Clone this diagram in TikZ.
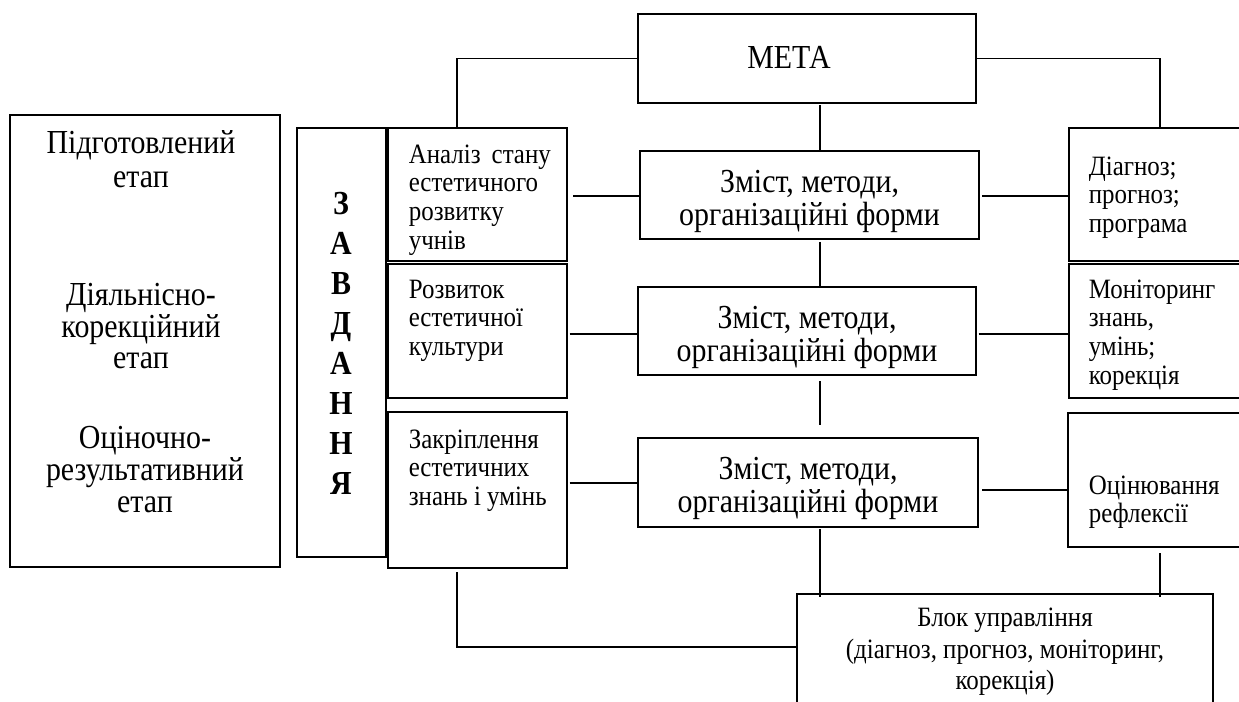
\documentclass[tikz,border=0pt]{standalone}
\usepackage{fontspec}
\setmainfont{Liberation Serif}[FakeStretch=0.89]
\usetikzlibrary{calc}
\newcommand{\myTop}{\rule{0pt}{16pt}}
\newcommand{\myTopB}{\rule{0pt}{19.5pt}}
\begin{document}
\begin{tikzpicture}[x=0.75pt,y=-0.75pt,line width=1.25pt,
  box/.style={draw,inner sep=0pt,outer sep=0pt,anchor=north west,align=center,font=\fontsize{25.2}{27}\selectfont},
  txtsmall/.style={inner sep=0pt,anchor=north west,align=left,font=\fontsize{21}{21.5}\selectfont},
  txtbig/.style={inner sep=0pt,align=center},
  link/.style={draw,line width=1.25pt}]
\useasboundingbox (0,0) rectangle (1239,702);
\clip (0,0) rectangle (1239,702);
\fill[white] (0,0) rectangle (1239,702);

% boxes
\node[box,minimum width=202.5pt,minimum height=339pt] (stages) at (10,115) {};
\node[box,minimum width=66.75pt,minimum height=321.75pt] (zad) at (297,128) {};
\node[box,minimum width=134.25pt,minimum height=99.75pt] (t1) at (388,128) {};
\node[box,minimum width=134.25pt,minimum height=100.5pt] (t2) at (388,264) {};
\node[box,minimum width=134.25pt,minimum height=117pt] (t3) at (388,412) {};
\node[box,minimum width=253.5pt,minimum height=66.75pt] (meta) at (638,14) {};
\node[box,minimum width=254.25pt,minimum height=66pt] (z1) at (640,151) {};
\node[box,minimum width=253.5pt,minimum height=66pt] (z2) at (638,287) {};
\node[box,minimum width=255pt,minimum height=66.75pt] (z3) at (638,438) {};
\node[box,minimum width=143.25pt,minimum height=99.75pt] (r1) at (1069,128) {};
\node[box,minimum width=143.25pt,minimum height=100.5pt] (r2) at (1069,264) {};
\node[box,minimum width=144pt,minimum height=100.5pt] (r3) at (1068,413) {};
\node[box,minimum width=312pt,minimum height=100pt] (blk) at (797,594) {};

% texts
\node[txtbig,font=\fontsize{25.2}{27}\selectfont] (metatxt) at (789,57) {МЕТА};
\node[txtbig,anchor=north,font=\fontsize{25.2}{25.5}\selectfont] (s1) at (141,127) {\myTopB Підготовлений\\етап};
\node[txtbig,anchor=north,font=\fontsize{25.2}{23.6}\selectfont] (s2) at (141,279) {\myTopB Діяльнісно-\\корекційний\\етап};
\node[txtbig,anchor=north,font=\fontsize{25.2}{24}\selectfont] (s3) at (145,422) {\myTopB Оціночно-\\результативний\\етап};
\node[txtbig,font=\fontsize{25.2}{30}\selectfont\bfseries] (zadtxt) at (341,343) {З\\А\\В\\Д\\А\\Н\\Н\\Я};

\node[txtbig,anchor=north,font=\fontsize{25.2}{24.75}\selectfont] (z1txt) at (z1.north |- 0,166) {\myTopB Зміст, методи,\\організаційні форми};
\node[txtbig,anchor=north,font=\fontsize{25.2}{24.75}\selectfont] (z2txt) at (z2.north |- 0,302) {\myTopB Зміст, методи,\\організаційні форми};
\node[txtbig,anchor=north,font=\fontsize{25.2}{24.75}\selectfont] (z3txt) at (z3.north |- 0,453) {\myTopB Зміст, методи,\\організаційні форми};

\node[txtsmall] (t1txt) at (408,141) {\myTop\hbox to 106.5pt{Аналіз\hfil стану}\\естетичного\\розвитку\\учнів};
\node[txtsmall] (t2txt) at (408,276) {\myTop Розвиток\\естетичної\\культури};
\node[txtsmall] (t3txt) at (408,426) {\myTop Закріплення\\естетичних\\знань і умінь};
\node[txtsmall] (r1txt) at (1088,153) {\myTop Діагноз;\\прогноз;\\програма};
\node[txtsmall] (r2txt) at (1088,276) {\myTop Моніторинг\\знань,\\умінь;\\корекція};
\node[txtsmall] (r3txt) at (1088,472) {\myTop Оцінювання\\рефлексії};
\node[txtbig,font=\fontsize{21}{23.5}\selectfont] (blktxt) at (1005,652) {Блок управління\\(діагноз, прогноз, моніторинг,\\корекція)};

% helper coordinates
\coordinate (vx) at (820,0);
\coordinate (lx) at (457,0);
\coordinate (rx) at (1160,0);
\coordinate (h1) at (0,196);
\coordinate (h2) at (0,334);
\coordinate (h3) at (0,483);
\coordinate (h3r) at (0,490);
\coordinate (hb) at (0,647);

% connectors
\draw[link] (meta.west) -| (t1.north -| lx);
\draw[link] (meta.east) -| (r1.north -| rx);
\draw[link,shorten <=1.5pt] (meta.south -| vx) -- (z1.north -| vx);
\draw[link,shorten <=2.25pt] (z1.south -| vx) -- (z2.north -| vx);
\draw[link,shorten <=4.5pt,shorten >=9.75pt] (z2.south -| vx) -- (z3.north -| vx);
\draw[link,shorten <=4.5pt] (t1.east |- h1) -- (z1.west |- h1);
\draw[link,shorten <=2.25pt] (z1.east |- h1) -- (r1.west |- h1);
\draw[link,shorten <=2pt] (t2.east |- h2) -- (z2.west |- h2);
\draw[link,shorten <=2pt] (z2.east |- h2) -- (r2.west |- h2);
\draw[link,shorten <=2pt] (t3.east |- h3) -- (z3.west |- h3);
\draw[link,shorten <=3pt] (z3.east |- h3r) -- (r3.west |- h3r);
\draw[link,shorten <=1.5pt,shorten >=-2.25pt] (z3.south -| vx) -- (blk.north -| vx);
\draw[link,shorten <=4.5pt,shorten >=-2.25pt] (r3.south -| rx) -- (blk.north -| rx);
\draw[link,shorten <=3pt] (t3.south -| lx) |- (blk.west |- hb);
\end{tikzpicture}
\end{document}
